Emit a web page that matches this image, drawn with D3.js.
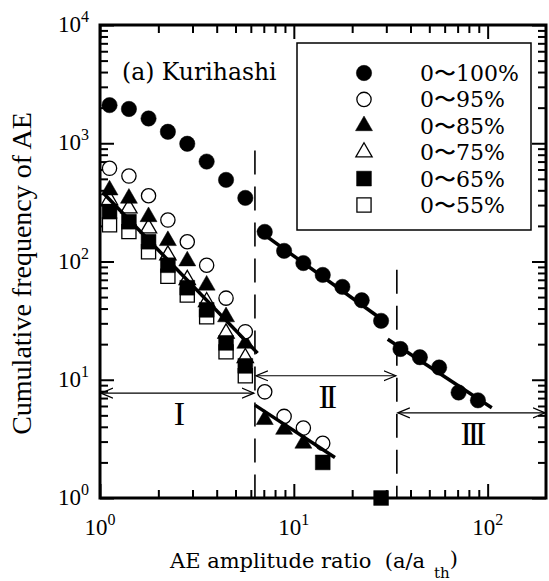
<!DOCTYPE html>
<html>
<head>
<meta charset="utf-8">
<script src="https://cdn.jsdelivr.net/npm/d3@7"></script>
<style>
  html, body { margin: 0; padding: 0; background: #fff; }
  svg { display: block; }
</style>
</head>
<body>
<svg id="chart" width="549" height="581"></svg>
<script>
// amplitude ratio steps (a/a_th) shared by the series
const ratio100 = [1.12, 1.41, 1.78, 2.24, 2.82, 3.55, 4.47, 5.62, 7.08, 8.91, 11.2, 14.1, 17.8, 22.4, 28.2, 35.5, 44.7, 56.2, 70.8, 89.1];
const freq100 = [2100, 1950, 1620, 1250, 990, 700, 490, 345, 178, 123, 97, 77, 61, 47, 31.5, 18.2, 15.5, 12.7, 7.8, 6.7];

const ratio95 = [1.12, 1.41, 1.78, 2.24, 2.82, 3.55, 4.47, 5.62, 7.08, 8.91, 11.2, 14.1];
const freq95 = [614, 528, 360, 224, 147, 93, 49, 25.5, 7.9, 4.9, 3.9, 2.9];

const ratio85 = [1.12, 1.41, 1.78, 2.24, 2.82, 3.55, 4.47, 5.62, 7.08, 8.91, 11.2];
const freq85 = [402, 342, 239, 150, 101, 63, 34, 20.3, 4.6, 3.8, 2.9];

const ratio75 = [1.12, 1.41, 1.78, 2.24, 2.82, 3.55, 4.47, 5.62];
const freq75 = [331, 282, 191, 113, 70, 45.5, 24.7, 15.3];

const ratio65 = [1.12, 1.41, 1.78, 2.24, 2.82, 3.55, 4.47, 5.62, 14.1, 28.2];
const freq65 = [264, 217, 147, 93, 60, 39, 20.5, 13.1, 2.0, 1.0];

const ratio55 = [1.12, 1.41, 1.78, 2.24, 2.82, 3.55, 4.47, 5.62];
const freq55 = [204, 179, 121, 75, 52, 34, 17.2, 10.8];

// fitted power-law segments: [x0, x1] and [y0, y1]
const fitRatio = [[1.04, 6.5], [6.3, 16.3], [6.5, 30.2], [30.5, 105]];
const fitFreq = [[380, 16.8], [6.1, 2.2], [185, 30.2], [22, 5.8]];

// region boundaries and the range arrows
const boundaryRatio = [6.3, 34];
const boundaryTop = [870, 85];
const regionNames = ["I", "II", "III"];
const regionFrom = [1, 6.3, 34];
const regionTo = [6.3, 34, 200];
const regionLevel = [7.7, 10.8, 5.25];

const xTicks = [1, 10, 100];
const yTicks = [1, 10, 100, 1000, 10000];

const margin = { top: 25, right: 3, bottom: 83, left: 100 };
const width = 549 - margin.left - margin.right;
const height = 581 - margin.top - margin.bottom;

const svg = d3.select("#chart");
const g = svg.append("g")
  .attr("transform", `translate(${margin.left},${margin.top})`);

const x = d3.scaleLog().domain([1, 200]).range([0, width]);
const y = d3.scaleLog().domain([1, 10000]).range([height, 0]);

const serif = "'Liberation Serif', 'Times New Roman', serif";
const wideSerif = "'DejaVu Serif', serif";

// ticks: majors and minors all point inwards on the four sides
const xMinor = [];
[1, 10].forEach(d => { for (let k = 2; k <= 9; k++) xMinor.push(d * k); });
const yMinor = [];
[1, 10, 100, 1000].forEach(d => { for (let k = 2; k <= 9; k++) yMinor.push(d * k); });

function tickAxis(axis, values, size, tx, ty) {
  const a = g.append("g")
    .attr("transform", `translate(${tx},${ty})`)
    .call(axis.tickValues(values).tickSizeInner(-size).tickSizeOuter(0).tickFormat(""));
  a.select(".domain").remove();
  a.selectAll("line").attr("stroke", "#000").attr("stroke-width", 2);
}
tickAxis(d3.axisBottom(x), xTicks, 14, 0, height);
tickAxis(d3.axisBottom(x), xMinor, 8, 0, height);
tickAxis(d3.axisTop(x), xTicks, 14, 0, 0);
tickAxis(d3.axisTop(x), xMinor, 8, 0, 0);
tickAxis(d3.axisLeft(y), yTicks, 14, 0, 0);
tickAxis(d3.axisLeft(y), yMinor, 8, 0, 0);
tickAxis(d3.axisRight(y), yTicks, 14, width, 0);
tickAxis(d3.axisRight(y), yMinor, 8, width, 0);

g.append("rect")
  .attr("width", width)
  .attr("height", height)
  .attr("fill", "none")
  .attr("stroke", "#000")
  .attr("stroke-width", 3);

// tick labels written as 10 with a raised exponent
const exps = d => Math.round(Math.log10(d));
g.selectAll(".ylab")
  .data(yTicks)
  .join("text")
  .attr("class", "ylab")
  .attr("x", -11)
  .attr("y", d => y(d) + 7)
  .attr("text-anchor", "end")
  .attr("font-family", serif)
  .attr("font-size", 23)
  .each(function(d) {
    const t = d3.select(this);
    t.append("tspan").text("10");
    t.append("tspan").attr("dy", -10).attr("font-size", 16).text(exps(d));
  });

g.selectAll(".xlab")
  .data(xTicks)
  .join("text")
  .attr("class", "xlab")
  .attr("x", d => x(d))
  .attr("y", height + 37)
  .attr("text-anchor", "middle")
  .attr("font-family", serif)
  .attr("font-size", 23)
  .each(function(d) {
    const t = d3.select(this);
    t.append("tspan").text("10");
    t.append("tspan").attr("dy", -10).attr("font-size", 16).text(exps(d));
  });

// axis titles
svg.append("text")
  .attr("transform", `translate(31,${margin.top + height / 2 + 12}) rotate(-90)`)
  .attr("text-anchor", "middle")
  .attr("font-family", serif)
  .attr("font-size", 28)
  .text("Cumulative frequency of AE");

const xt = svg.append("text")
  .attr("x", 170)
  .attr("y", 568)
  .attr("font-family", wideSerif)
  .attr("font-size", 21);
xt.append("tspan").text("AE amplitude ratio\u00a0\u00a0(a/a");
xt.append("tspan").attr("dx", 9).attr("dy", 10).attr("font-size", 15).text("th");
xt.append("tspan").attr("dy", -12).text(")");

// region boundaries
g.selectAll(".boundary")
  .data(boundaryRatio)
  .join("line")
  .attr("class", "boundary")
  .attr("x1", d => x(d)).attr("x2", d => x(d))
  .attr("y1", (d, i) => y(boundaryTop[i]))
  .attr("y2", y(1))
  .attr("stroke", "#000")
  .attr("stroke-width", 1.6)
  .attr("stroke-dasharray", "24,12");

// open arrow heads
const defs = svg.append("defs");
defs.append("marker")
  .attr("id", "head")
  .attr("viewBox", "-12 -6 14 12")
  .attr("refX", 0).attr("refY", 0)
  .attr("markerWidth", 14).attr("markerHeight", 12)
  .attr("markerUnits", "userSpaceOnUse")
  .attr("orient", "auto-start-reverse")
  .append("path")
  .attr("d", "M-12,-5L0,0L-12,5")
  .attr("fill", "none")
  .attr("stroke", "#000")
  .attr("stroke-width", 1.2);

regionNames.forEach((name, i) => {
  g.append("line")
    .attr("x1", x(regionFrom[i]) + 1).attr("x2", x(regionTo[i]) - 1)
    .attr("y1", y(regionLevel[i])).attr("y2", y(regionLevel[i]))
    .attr("stroke", "#000")
    .attr("stroke-width", 1.1)
    .attr("marker-start", "url(#head)")
    .attr("marker-end", "url(#head)");
  g.append("text")
    .attr("x", x(Math.sqrt(regionFrom[i] * regionTo[i])))
    .attr("y", y(regionLevel[i]) + 32)
    .attr("text-anchor", "middle")
    .attr("font-family", serif)
    .attr("font-size", 34)
    .attr("letter-spacing", -4)
    .text(name);
});

// series, drawn from the lowest band up
const series = [
  { label: "0\u301c55%", ratio: ratio55, freq: freq55, type: d3.symbolSquare, size: 200, filled: false },
  { label: "0\u301c75%", ratio: ratio75, freq: freq75, type: d3.symbolTriangle, size: 115, filled: false },
  { label: "0\u301c65%", ratio: ratio65, freq: freq65, type: d3.symbolSquare, size: 220, filled: true },
  { label: "0\u301c85%", ratio: ratio85, freq: freq85, type: d3.symbolTriangle, size: 125, filled: true },
  { label: "0\u301c95%", ratio: ratio95, freq: freq95, type: d3.symbolCircle, size: 160, filled: false },
  { label: "0\u301c100%", ratio: ratio100, freq: freq100, type: d3.symbolCircle, size: 185, filled: true }
];

series.forEach(s => {
  const pts = s.ratio.map((r, i) => [r, s.freq[i]]);
  g.append("g")
    .selectAll("path")
    .data(pts)
    .join("path")
    .attr("transform", d => `translate(${x(d[0])},${y(d[1])})`)
    .attr("d", d3.symbol().type(s.type).size(s.size))
    .attr("fill", s.filled ? "#000" : "#fff")
    .attr("stroke", "#000")
    .attr("stroke-width", s.filled ? 0.5 : 1.3);
});

// fitted lines
g.selectAll(".fit")
  .data(fitRatio)
  .join("line")
  .attr("class", "fit")
  .attr("x1", d => x(d[0])).attr("x2", d => x(d[1]))
  .attr("y1", (d, i) => y(fitFreq[i][0])).attr("y2", (d, i) => y(fitFreq[i][1]))
  .attr("stroke", "#000")
  .attr("stroke-width", 3.5);

// panel label
svg.append("text")
  .attr("x", 122)
  .attr("y", 80)
  .attr("font-family", wideSerif)
  .attr("font-size", 23.5)
  .text("(a) Kurihashi");

// legend
const legend = svg.append("g");
legend.append("rect")
  .attr("x", 297).attr("y", 43)
  .attr("width", 234).attr("height", 187)
  .attr("fill", "#fff")
  .attr("stroke", "#000")
  .attr("stroke-width", 1.5);

const legendOrder = ["0\u301c100%", "0\u301c95%", "0\u301c85%", "0\u301c75%", "0\u301c65%", "0\u301c55%"];
legendOrder.forEach((label, i) => {
  const s = series.find(d => d.label === label);
  const cy = 73 + i * 26.4;
  legend.append("path")
    .attr("transform", `translate(364,${cy})`)
    .attr("d", d3.symbol().type(s.type).size(s.size))
    .attr("fill", s.filled ? "#000" : "#fff")
    .attr("stroke", "#000")
    .attr("stroke-width", s.filled ? 0.5 : 1.3);
  legend.append("text")
    .attr("x", 420)
    .attr("y", cy + 8)
    .attr("font-family", wideSerif)
    .attr("font-size", 22)
    .text(label);
});
</script>
</body>
</html>
